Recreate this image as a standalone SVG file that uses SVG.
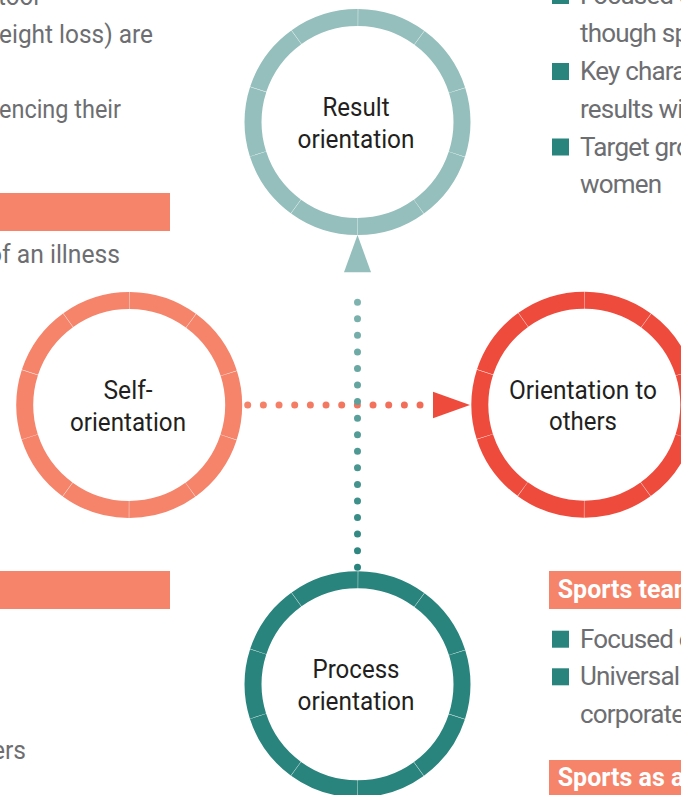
<svg xmlns="http://www.w3.org/2000/svg" width="681" height="795" viewBox="0 0 681 795">
<defs>
<linearGradient id="gv" gradientUnits="userSpaceOnUse" x1="0" y1="567" x2="0" y2="236">
<stop offset="0" stop-color="#29847D"/>
<stop offset="1" stop-color="#94BFBC"/>
</linearGradient>
<linearGradient id="gh" gradientUnits="userSpaceOnUse" x1="243" y1="0" x2="471" y2="0">
<stop offset="0" stop-color="#F5846A"/>
<stop offset="1" stop-color="#F06450"/>
</linearGradient>
</defs>
<style>
.ring{fill:#ffffff;stroke-width:17;stroke-dasharray:65.259 0.4;stroke-dashoffset:32.63}
.lbl{font-family:Roboto,"Liberation Sans",sans-serif;font-size:26px;fill:#231F20;text-anchor:middle}
.side{font-family:Roboto,"Liberation Sans",sans-serif;font-size:26px;fill:#6D6E71}
.rt{letter-spacing:-0.8px}
.bar{fill:#F5846A}
.bt{font-family:Roboto,"Liberation Sans",sans-serif;font-size:25px;font-weight:700;fill:#ffffff}
.bul{fill:#29847D}
.dots{fill:none;stroke-width:7;stroke-linecap:round}
</style>
<rect width="681" height="795" fill="#ffffff"/>

<g id="left-column">
<text class="side" x="-2" y="5" textLength="41" lengthAdjust="spacingAndGlyphs">tool</text>
<text class="side" x="-1" y="42.7" textLength="154" lengthAdjust="spacingAndGlyphs">eight loss) are</text>
<text class="side" x="-1" y="118.3" textLength="122" lengthAdjust="spacingAndGlyphs">encing their</text>
<rect class="bar" x="0" y="193" width="170" height="38"/>
<text class="side" x="-12" y="263" textLength="132" lengthAdjust="spacingAndGlyphs">of an illness</text>
<rect class="bar" x="0" y="571" width="170" height="38"/>
<text class="side" x="-8" y="759" textLength="34" lengthAdjust="spacingAndGlyphs">ers</text>
</g>

<g id="right-column">
<rect class="bul" x="552" y="-13" width="17" height="17"/>
<text class="side rt" x="580" y="4">Focused o</text>
<text class="side rt" x="580" y="41.7">though sp</text>
<rect class="bul" x="552" y="63" width="17" height="17"/>
<text class="side rt" x="580" y="80">Key chara</text>
<text class="side rt" x="580" y="117.5">results wi</text>
<rect class="bul" x="552" y="138.5" width="17" height="17"/>
<text class="side rt" x="580" y="155.7">Target gro</text>
<text class="side rt" x="580" y="193.3">women</text>

<rect class="bar" x="549" y="571" width="140" height="38"/>
<text class="bt" x="557.7" y="598">Sports team</text>
<rect class="bul" x="552" y="630.7" width="17" height="17"/>
<text class="side rt" x="580" y="647.5">Focused o</text>
<rect class="bul" x="552" y="668.3" width="17" height="17"/>
<text class="side rt" x="580" y="685">Universal</text>
<text class="side rt" x="580" y="723.3">corporate</text>
<rect class="bar" x="549" y="760" width="140" height="40"/>
<text class="bt" x="557.7" y="786">Sports as a</text>
</g>

<g id="connectors">
<line class="dots" x1="247.7" y1="405" x2="435.7" y2="405" stroke="url(#gh)" stroke-dasharray="0 15.667"/>
<polygon points="470,405 433,391.7 433,418.3" fill="#EF4B3C"/>
<line class="dots" x1="357.5" y1="567.2" x2="357.5" y2="285.7" stroke="url(#gv)" stroke-dasharray="0 16.56"/>
<polygon points="357.5,235 344,272.3 371,272.3" fill="#94BFBC"/>
</g>

<g id="node-result">
<circle class="ring" cx="357.5" cy="122" r="104.5" stroke="#94BFBC"/>
<text class="lbl" x="356" y="116" textLength="67" lengthAdjust="spacingAndGlyphs">Result</text>
<text class="lbl" x="356" y="147.7" textLength="117" lengthAdjust="spacingAndGlyphs">orientation</text>
</g>

<g id="node-self">
<circle class="ring" cx="129.2" cy="405" r="104.5" stroke="#F5846A"/>
<text class="lbl" x="128" y="399" textLength="49" lengthAdjust="spacingAndGlyphs">Self-</text>
<text class="lbl" x="128" y="430.7" textLength="116" lengthAdjust="spacingAndGlyphs">orientation</text>
</g>

<g id="node-others">
<circle class="ring" cx="584.3" cy="404.7" r="104.5" stroke="#EF4B3C"/>
<text class="lbl" x="583" y="399.3" textLength="148" lengthAdjust="spacingAndGlyphs">Orientation to</text>
<text class="lbl" x="583" y="430" textLength="68" lengthAdjust="spacingAndGlyphs">others</text>
</g>

<g id="node-process">
<circle class="ring" cx="357.5" cy="684.3" r="104.5" stroke="#29847D"/>
<text class="lbl" x="356" y="678.3" textLength="87" lengthAdjust="spacingAndGlyphs">Process</text>
<text class="lbl" x="356" y="710" textLength="117" lengthAdjust="spacingAndGlyphs">orientation</text>
</g>
</svg>
